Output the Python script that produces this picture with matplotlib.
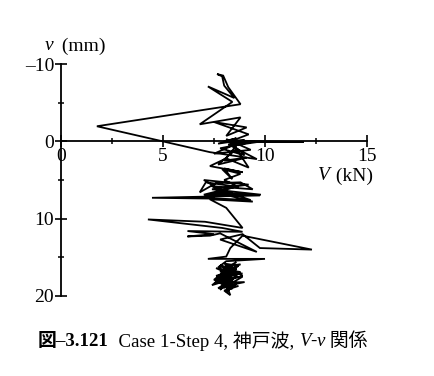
import matplotlib
matplotlib.use("Agg")
import matplotlib.pyplot as plt
from matplotlib.ticker import MultipleLocator

# Shear force V (kN) and displacement v (mm) trajectory
V_kN = [
    8.0, 8.6, 7.7, 9.0, 8.3, 9.6, 11.9, 8.4, 9.2, 7.5, 9.1, 8.1, 8.8, 6.8,
    8.4, 7.2, 8.5, 8.0, 7.9, 7.65, 7.95, 8.2, 8.8, 1.76, 7.3, 9.6,
    8.2, 9.5, 7.8, 9.0, 8.1, 9.3, 7.5, 8.7, 8.0, 9.1, 7.7, 8.6, 9.2, 8.1,
    7.3, 8.9, 8.0, 8.4, 7.9, 8.8, 8.0, 8.7,
    7.1, 6.8, 7.6, 8.8, 9.4, 7.4, 8.2, 7.0, 9.2, 7.4, 9.8, 7.0, 8.5, 6.9,
    9.3, 8.0, 7.3, 4.46, 9.75, 7.6, 9.4, 7.3, 8.1,
    8.9, 7.06, 4.26, 7.9, 8.9, 6.2, 7.5, 6.2, 7.3, 7.8, 9.6, 7.8, 8.9,
    9.75, 12.3, 8.9, 8.3, 8.1,
    7.2, 10.0, 8.1, 7.7, 8.8, 7.9, 8.6, 7.6, 8.9, 7.8, 8.4, 7.5, 9.0, 7.9,
    8.5, 7.7, 8.7, 8.0, 8.3, 8.1, 7.6, 8.6, 7.8, 8.2, 7.7, 8.9, 8.0, 8.4,
    7.9, 8.6, 8.1, 8.3, 7.6, 8.8, 7.8, 8.5, 7.4, 8.7, 8.0, 8.9, 7.7, 8.4,
    7.9, 8.6, 7.5, 8.3, 8.0, 8.7, 7.8, 8.2,
]
v_mm = [
    0.0, -0.4, 0.3, -0.2, 0.6, 0.1, 0.1, -0.1, -0.9, -2.5, -1.8, -0.7, -3.1, -2.2,
    -5.1, -7.1, -5.6, -7.2, -8.4, -8.7, -8.5, -7.0, -4.8, -1.95, 1.4, 2.3,
    0.4, 0.0, 0.9, 1.8, -0.3, 1.1, 1.6, 0.2, 2.5, 2.1, 3.0, 1.0, 3.4, 2.2,
    3.2, 4.0, 3.5, 4.9, 3.6, 4.2, 5.0, 5.9,
    5.3, 6.6, 5.4, 5.3, 6.2, 5.8, 6.9, 5.0, 5.6, 6.2, 6.9, 6.9, 5.9, 7.3,
    7.6, 6.4, 7.4, 7.3, 7.0, 6.6, 7.8, 7.5, 8.6,
    11.2, 10.4, 10.1, 11.2, 11.7, 11.6, 12.0, 12.3, 12.2, 11.9, 14.3, 12.7, 12.0,
    13.8, 14.0, 12.2, 13.8, 14.9,
    15.2, 15.2, 15.5, 16.3, 15.9, 17.0, 16.5, 17.4, 17.1, 16.8, 18.0, 18.3, 18.2, 18.8,
    17.6, 19.0, 18.7, 19.3, 19.9, 18.5, 17.8, 17.0, 16.0, 16.6, 17.9, 17.5, 18.9, 16.2,
    17.3, 18.4, 19.5, 17.2, 16.4, 16.9, 18.1, 17.7, 18.6, 16.1, 15.8, 17.4, 18.2, 19.1,
    16.7, 15.6, 17.9, 18.8, 16.5, 17.1, 19.2, 18.0,
]

x_ticks = [0, 5, 10, 15]
y_ticks = [-10, 0, 10, 20]

plt.rcParams["font.family"] = ["Liberation Serif", "Noto Sans CJK JP"]

W, H = 434, 376
fig = plt.figure(figsize=(W / 100, H / 100), dpi=100)
fig.patch.set_facecolor("white")
ax = fig.add_axes([61 / W, 1 - 296 / H, 306 / W, 232 / H])
ax.set_facecolor("none")

ax.plot(V_kN, v_mm, color="black", lw=1.3, solid_joinstyle="miter")

ax.set_xlim(0, 15)
ax.set_ylim(20, -10)
ax.spines["top"].set_visible(False)
ax.spines["right"].set_visible(False)
ax.spines["bottom"].set_position(("data", 0))
for s in ("left", "bottom"):
    ax.spines[s].set_linewidth(1.3)

ax.set_xticks(x_ticks)
ax.set_yticks(y_ticks)
ax.set_yticklabels(["\u201310", "0", "10", "20"])
ax.xaxis.set_minor_locator(MultipleLocator(2.5))
ax.yaxis.set_minor_locator(MultipleLocator(5))
ax.tick_params(axis="both", which="major", direction="inout", length=8, width=1.2,
               labelsize=14, colors="black")
ax.tick_params(axis="both", which="minor", direction="inout", length=5, width=1.1)
ax.tick_params(axis="x", which="major", pad=1)
ax.tick_params(axis="y", which="major", pad=1)

# axis labels
fig.text(45 / W, 1 - 46 / H, "v", fontsize=14, style="italic", va="center", ha="left")
fig.text(57 / W, 1 - 46 / H, " (mm)", fontsize=14, va="center", ha="left")
fig.text(318 / W, 1 - 176 / H, "V", fontsize=14, style="italic", va="center", ha="left")
fig.text(331 / W, 1 - 176 / H, " (kN)", fontsize=14, va="center", ha="left")

# caption built from pieces
fig.canvas.draw()
r = fig.canvas.get_renderer()
pieces = [
    ("図\u20133.121", dict(weight="bold")),
    ("  Case 1-Step 4, 神戸波, ", dict()),
    ("V", dict(style="italic")),
    ("-", dict()),
    ("v", dict(style="italic")),
    (" 関係", dict()),
]
x = 38
for txt, kw in pieces:
    t = fig.text(x / W, 1 - 341 / H, txt, fontsize=13.6, va="center", ha="left", **kw)
    bb = t.get_window_extent(renderer=r)
    x += bb.width

fig.savefig("out.png", dpi=100, facecolor="white")
